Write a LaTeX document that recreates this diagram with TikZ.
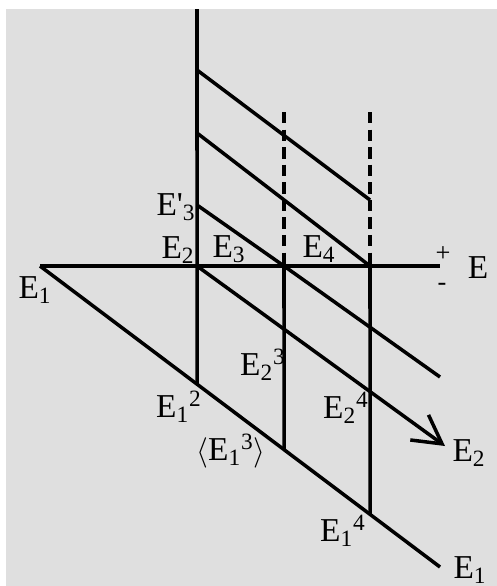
\documentclass[tikz,border=0pt]{standalone}
\usepackage{fontspec}
\setmainfont{Liberation Serif}
\usepackage{tikz}
\usetikzlibrary{arrows.meta}
\definecolor{PlotBack}{HTML}{DFDFDF}

\begin{document}
\begin{tikzpicture}[x=0.02cm, y=-0.02cm,
  ln/.style={line width=2pt},
  guide/.style={ln, dash pattern=on 6.5pt off 3.5pt},
  lbl/.style={font=\fontsize{19}{22}\selectfont, inner sep=0pt},
  sgn/.style={font=\fontsize{15}{16}\selectfont, inner sep=0pt}]
  \useasboundingbox (0,0) rectangle (497,586);
  \fill[PlotBack] (6,9) rectangle (497,586);
  % axes and cut points
  \coordinate (top) at (197,9);
  \coordinate (o) at (197,266);
  \coordinate (a) at (284,266);
  \coordinate (b) at (370,266);
  \coordinate (axl) at (40,266);
  \coordinate (axr) at (440,266);
  \coordinate (e1end) at (440,567);
  \coordinate (e2end) at (445,446);
  \coordinate (a-end) at (440,377);
  \coordinate (s1) at (197,205);
  \coordinate (s2) at (197,133);
  \coordinate (s3) at (197,70);
  \coordinate (s3end) at (370,200);
  \coordinate (da) at (284,112);
  \coordinate (db) at (370,112);
  \coordinate (p2) at (intersection of axl--e1end and o--top);
  \coordinate (p3) at (intersection of axl--e1end and a--da);
  \coordinate (p4) at (intersection of axl--e1end and b--db);
  \draw[ln] (top) -- (p2);
  \draw[ln] (axl) -- (axr);
  \draw[ln] (axl) -- (e1end);
  \draw[ln, -{Straight Barb[length=5.6mm, width=6.2mm]}] (o) -- (e2end);
  \draw[ln] (a) -- (a-end);
  \draw[ln] (s1) -- (a);
  \draw[ln] (s2) -- (b);
  \draw[ln] (s3) -- (s3end);
  \draw[guide] (da) -- (a);
  \draw[guide] (db) -- (b);
  \draw[ln] (a) -- (p3);
  \draw[ln] (b) -- (p4);
  % labels
  \node[lbl] (l-e3p) at (176,207) {E\textquotesingle\textsubscript{3}};
  \node[lbl] (l-e2) at (178,250) {E\textsubscript{2}};
  \node[lbl] (l-e3) at (229,249) {E\textsubscript{3}};
  \node[lbl] (l-e4) at (319,249) {E\textsubscript{4}};
  \node[sgn] (l-plus) at (443,254) {+};
  \node[sgn] (l-minus) at (442,287) {-};
  \node[lbl] (l-e) at (478,268) {E};
  \node[lbl] (l-e1l) at (35,290) {E\textsubscript{1}};
  \node[lbl] (l-e23) at (263,365) {E\textsubscript{2}\textsuperscript{3}};
  \node[lbl] (l-e12) at (179,407) {E\textsubscript{1}\textsuperscript{2}};
  \node[lbl] (l-e13) at (231,451) {$\langle$E\textsubscript{1}\textsuperscript{3}$\rangle$};
  \node[lbl] (l-e24) at (346,408) {E\textsubscript{2}\textsuperscript{4}};
  \node[lbl] (l-e2r) at (469,453) {E\textsubscript{2}};
  \node[lbl] (l-e14) at (343,531) {E\textsubscript{1}\textsuperscript{4}};
  \node[lbl] (l-e1r) at (470,570) {E\textsubscript{1}};
\end{tikzpicture}
\end{document}
